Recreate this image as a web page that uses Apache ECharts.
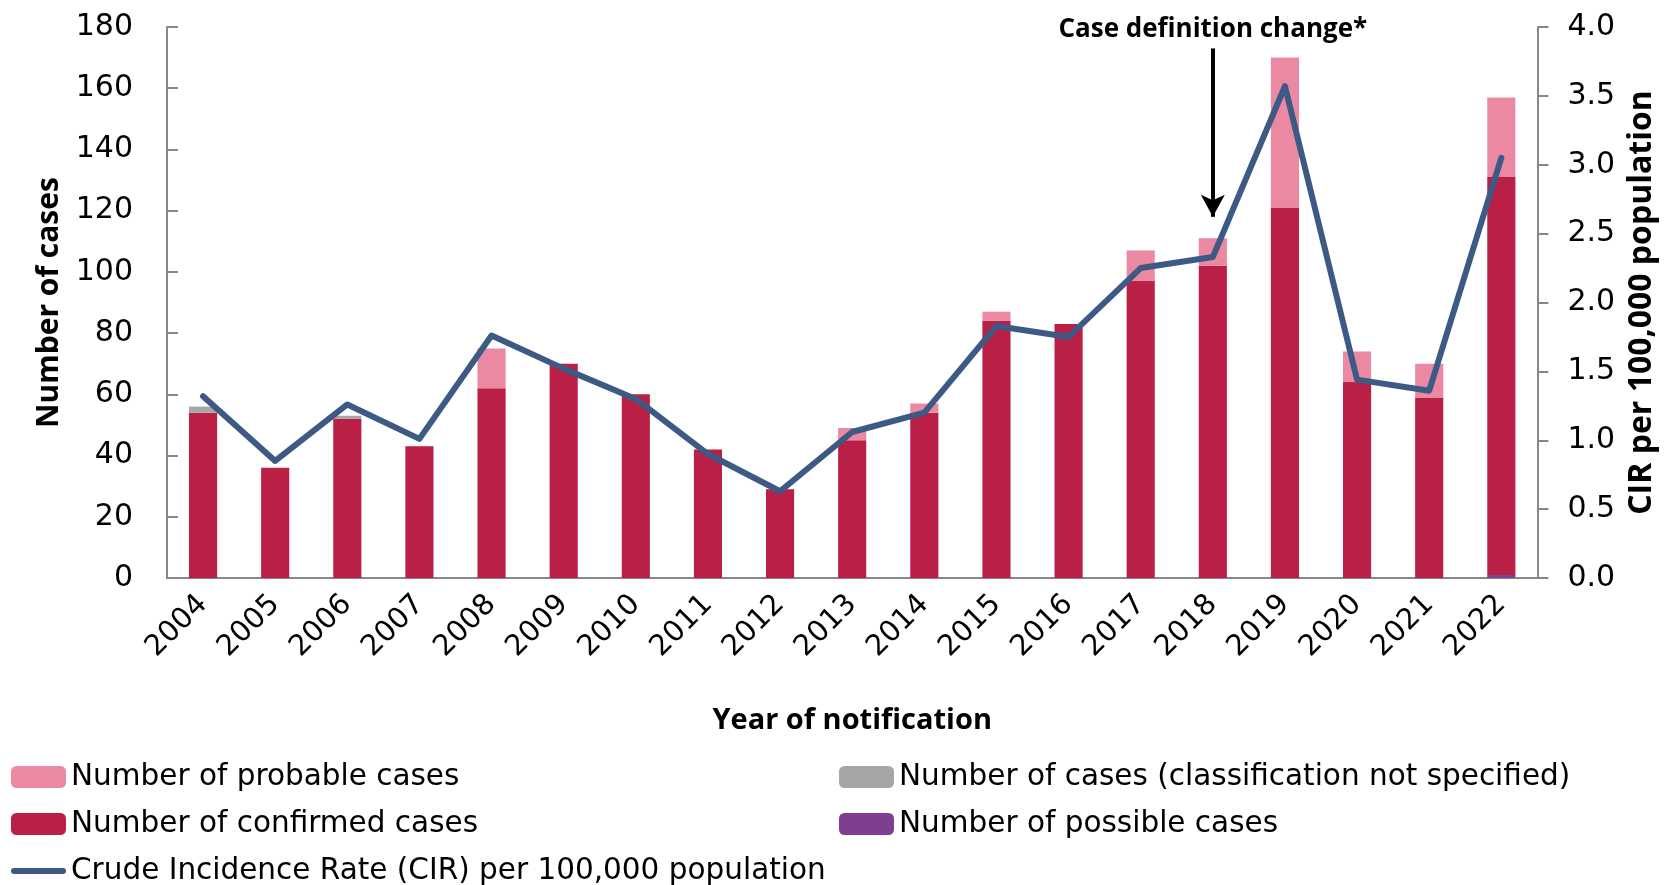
<!DOCTYPE html>
<html>
<head>
<meta charset="utf-8">
<script src="https://cdn.jsdelivr.net/npm/echarts@6/dist/echarts.min.js"></script>
<style>
html,body{margin:0;padding:0;background:#fff;}
#chart{width:1666px;height:885px;}
</style>
</head>
<body>
<div id="chart"></div>
<script>
const years = ['2004','2005','2006','2007','2008','2009','2010','2011','2012','2013','2014','2015','2016','2017','2018','2019','2020','2021','2022'];
const possible    = [0,0,0,0,0,0,0,0,0,0,0,0,0,0,0,0,0,0,1];
const confirmed   = [54,36,52,43,62,70,60,42,29,45,54,84,83,97,102,121,64,59,130];
const unspecified = [2,0,1,0,0,0,0,0,0,0,0,0,0,0,0,0,0,0,0];
const probable    = [0,0,0,0,13,0,0,0,0,4,3,3,0,10,9,49,10,11,26];
const cir         = [1.32,0.85,1.26,1.01,1.76,1.52,1.30,0.90,0.63,1.06,1.20,1.83,1.75,2.25,2.33,3.57,1.44,1.36,3.05];
const leftTicks  = {min:0, max:180, interval:20};
const rightTicks = {min:0, max:4, interval:0.5};
const annotation = {year:'2018', from:173, to:118, text:'Case definition change*'};

const FONT = 'DejaVu Sans';
const BOLD = 'Open Sans';
const C = {
  confirmed:'#BA1F45', probable:'#EA89A1', unspecified:'#A6A6A6', possible:'#7F3F91', line:'#3C5A84', axis:'#888888'
};
const names = {
  probable:'Number of probable cases',
  unspecified:'Number of cases (classification not specified)',
  confirmed:'Number of confirmed cases',
  possible:'Number of possible cases',
  cir:'Crude Incidence Rate (CIR) per 100,000 population'
};

const chart = echarts.init(document.getElementById('chart'));
const barCommon = {type:'bar', stack:'cases', barCategoryGap:'61%', yAxisIndex:0};
const legendText = {fontSize:29.5, color:'#000', fontFamily:FONT, lineHeight:30};
chart.setOption({
  animation:false,
  textStyle:{fontFamily:FONT},
  grid:{left:167, right:124, top:27, bottom:307, containLabel:false},
  legend:[
    {orient:'vertical', left:11, top:762, padding:0, itemWidth:55, itemHeight:22, itemGap:17, height:140,
     textStyle:legendText,
     data:[names.probable, names.confirmed, {name:names.cir, icon:'path://M3,0H52A3,3 0 0 1 52,6H3A3,3 0 0 1 3,0Z'}]},
    {orient:'vertical', left:839, top:762, padding:0, itemWidth:55, itemHeight:22, itemGap:17, height:140,
     textStyle:legendText,
     data:[names.unspecified, names.possible]}
  ],
  xAxis:{
    type:'category', data:years,
    axisLine:{lineStyle:{color:C.axis, width:2}},
    axisTick:{show:false},
    axisLabel:{rotate:45, fontSize:29, color:'#000', margin:22, interval:0},
    name:'Year of notification', nameLocation:'middle', nameGap:128,
    nameTextStyle:{fontSize:29, fontWeight:'bold', color:'#000', fontFamily:BOLD}
  },
  yAxis:[
    {type:'value', min:leftTicks.min, max:leftTicks.max, interval:leftTicks.interval,
     splitLine:{show:false},
     axisLine:{show:true, lineStyle:{color:C.axis, width:2}},
     axisTick:{show:true, inside:true, length:11, lineStyle:{color:C.axis, width:2}},
     axisLabel:{fontSize:30, color:'#000', margin:34},
     name:'Number of cases', nameLocation:'middle', nameGap:97, nameRotate:90,
     nameTextStyle:{fontSize:30, fontWeight:'bold', color:'#000', fontFamily:BOLD}},
    {type:'value', min:rightTicks.min, max:rightTicks.max, interval:rightTicks.interval, position:'right',
     splitLine:{show:false},
     axisLine:{show:true, lineStyle:{color:C.axis, width:2}},
     axisTick:{show:true, inside:false, length:11, lineStyle:{color:C.axis, width:2}},
     axisLabel:{fontSize:30, color:'#000', margin:30, formatter:v=>v.toFixed(1)},
     name:'CIR per 100,000 population', nameLocation:'middle', nameGap:86, nameRotate:90,
     nameTextStyle:{fontSize:32, fontWeight:'bold', color:'#000', fontFamily:BOLD}}
  ],
  series:[
    Object.assign({}, barCommon, {name:names.possible, data:possible, itemStyle:{color:C.possible}}),
    Object.assign({}, barCommon, {name:names.confirmed, data:confirmed, itemStyle:{color:C.confirmed},
      markLine:{
        silent:true, symbol:['none','arrow'], symbolSize:[18,22],
        lineStyle:{color:'#000', width:4, type:'solid'},
        label:{show:true, position:'start', distance:6, formatter:annotation.text,
               fontSize:26, fontWeight:'bold', color:'#000', fontFamily:BOLD},
        data:[[{coord:[annotation.year, annotation.from]},{coord:[annotation.year, annotation.to]}]]
      }}),
    Object.assign({}, barCommon, {name:names.unspecified, data:unspecified, itemStyle:{color:C.unspecified}}),
    Object.assign({}, barCommon, {name:names.probable, data:probable, itemStyle:{color:C.probable}}),
    {type:'line', name:names.cir, yAxisIndex:1, data:cir, symbol:'none',
     lineStyle:{color:C.line, width:6, cap:'round', join:'round'}, itemStyle:{color:C.line}, z:5}
  ]
});
</script>
</body>
</html>
